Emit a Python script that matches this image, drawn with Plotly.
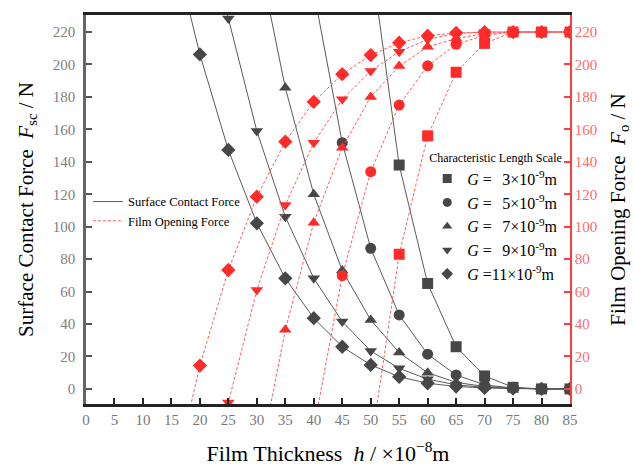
import plotly.graph_objects as go

# Film thickness h (x10^-8 m)
h_all = [15, 20, 25, 30, 35, 40, 45, 50, 55, 60, 65, 70, 75, 80, 85]

# Surface contact force F_sc (N) for each characteristic length scale G
sc_h = {
    3:  [50, 55, 60, 65, 70, 75, 80, 85],
    5:  [40, 45, 50, 55, 60, 65, 70, 75, 80, 85],
    7:  [30, 35, 40, 45, 50, 55, 60, 65, 70, 75, 80, 85],
    9:  [20, 25, 30, 35, 40, 45, 50, 55, 60, 65, 70, 75, 80, 85],
    11: [15, 20, 25, 30, 35, 40, 45, 50, 55, 60, 65, 70, 75, 80, 85],
}
sc_val = {
    3:  [266, 138, 65, 26, 8, 1, 0, 0],
    5:  [245, 151.8, 86.7, 45.6, 21.4, 8.6, 2.5, 0.5, 0, 0],
    7:  [272, 185.7, 120, 73, 42.5, 22.4, 10, 4, 1.5, 0.5, 0, 0],
    9:  [310, 228.4, 159, 106.2, 68.2, 41.5, 23.4, 12.7, 6, 2.5, 1, 0.3, 0, 0],
    11: [278, 206.2, 147.3, 102.1, 68.2, 43.6, 26, 14.8, 7.5, 3.5, 1.5, 0.6, 0.2, 0, 0],
}

# Film opening force F_o (N)
fo_h = sc_h
fo_val = {
    3:  [-36, 83, 156, 195.2, 213, 220, 220, 220],
    5:  [-25, 69.8, 133.9, 175, 199.2, 212.4, 218, 220, 220, 220],
    7:  [-53, 36.4, 102.5, 148.7, 180, 199, 210.9, 216, 219, 220, 220, 220],
    9:  [-78, -8.4, 61, 113.4, 151.8, 178.5, 196, 207.9, 215.5, 219, 220, 220, 220, 220],
    11: [-62, 14.4, 73.3, 118.5, 152.4, 177, 194, 205.8, 213.4, 217.7, 219.4, 220, 220, 220, 220],
}

G_list = [3, 5, 7, 9, 11]
symbols = {3: "square", 5: "circle", 7: "triangle-up", 9: "triangle-down", 11: "diamond"}
x_ticks = list(range(0, 90, 5))
y_ticks = list(range(0, 240, 20))

GRAY = "#474747"
GRAY_LINE = "#5a5a5a"
RED = "#ff2b2b"
RED_LINE = "#ff5a5a"
FONT = "Liberation Serif"
DASH = "3px,2px"

fig = go.Figure()

for g in G_list:
    fig.add_trace(go.Scatter(
        x=sc_h[g], y=sc_val[g], mode="lines+markers",
        line=dict(color=GRAY_LINE, width=1),
        marker=dict(symbol=symbols[g], size=11, color=GRAY),
        showlegend=False, yaxis="y", cliponaxis=True))

for g in G_list:
    fig.add_trace(go.Scatter(
        x=fo_h[g], y=fo_val[g], mode="lines+markers",
        line=dict(color=RED_LINE, width=1, dash=DASH),
        marker=dict(symbol=symbols[g], size=11, color=RED),
        showlegend=False, yaxis="y2", cliponaxis=True))

# legend 1: line styles
fig.add_trace(go.Scatter(x=[None], y=[None], mode="lines", name="Surface Contact Force",
                         line=dict(color=GRAY_LINE, width=1), legend="legend"))
fig.add_trace(go.Scatter(x=[None], y=[None], mode="lines", name="Film Opening Force",
                         line=dict(color=RED_LINE, width=1, dash=DASH), legend="legend"))

# legend 2: marker shapes
for g in G_list:
    label = (f"<i>G</i> =\u2009\u2009 {g}×10<sup>-9</sup>m" if g < 10
             else f"<i>G</i> ={g}×10<sup>-9</sup>m")
    fig.add_trace(go.Scatter(
        x=[None], y=[None], mode="markers", name=label,
        marker=dict(symbol=symbols[g], size=9, color=GRAY), legend="legend2"))

fig.update_layout(
    width=634, height=466,
    margin=dict(l=86, r=64, t=15, b=62),
    paper_bgcolor="white", plot_bgcolor="white",
    font=dict(family=FONT, color="black"),
    xaxis=dict(
        range=[0, 85], tickvals=x_ticks, ticktext=[str(v) for v in x_ticks],
        ticks="inside", ticklen=6, tickwidth=1.5, tickcolor="#222",
        showline=True, linecolor="#222", linewidth=2.5, mirror=False,
        showgrid=False, zeroline=False, automargin=False,
        tickfont=dict(family=FONT, size=15, color="#777"),
        title=dict(text="Film Thickness  <i>h</i> / ×10<sup>−8</sup>m",
                   font=dict(family=FONT, size=22, color="black"), standoff=20),
    ),
    xaxis2=dict(overlaying="x", side="top", range=[0, 85], showline=True,
                linecolor="#222", linewidth=2.5, showticklabels=False, ticks="",
                showgrid=False, zeroline=False, automargin=False),
    yaxis=dict(
        range=[-9.3, 230.5], tickvals=y_ticks, ticktext=[str(v) for v in y_ticks],
        ticks="inside", ticklen=6, tickwidth=1.5, tickcolor="#555",
        showline=True, linecolor="#666", linewidth=2.5,
        showgrid=False, zeroline=False, automargin=False,
        ticklabelstandoff=5,
        tickfont=dict(family=FONT, size=15, color="#808080"),
        title=dict(text="Surface Contact Force  <i>F</i><sub>sc</sub> / N",
                   font=dict(family=FONT, size=21, color="black"), standoff=14),
    ),
    yaxis2=dict(
        overlaying="y", side="right",
        range=[-9.3, 230.5], tickvals=y_ticks, ticktext=[str(v) for v in y_ticks],
        ticks="inside", ticklen=6, tickwidth=1.5, tickcolor="#ff3b3b",
        showline=True, linecolor="#ff3b3b", linewidth=1.5,
        showgrid=False, zeroline=False, automargin=False,
        tickfont=dict(family=FONT, size=15, color="#ff6b6b"),
        title=dict(text="Film Opening Force  <i>F</i><sub>o</sub> / N",
                   font=dict(family=FONT, size=21, color="black"), standoff=14),
    ),
    legend=dict(x=0.004, y=0.558, xanchor="left", yanchor="top",
                bgcolor="rgba(0,0,0,0)", font=dict(family=FONT, size=12.5, color="black"),
                tracegroupgap=0, itemwidth=30),
    legend2=dict(x=0.705, y=0.663, xanchor="left", yanchor="top",
                 bgcolor="rgba(0,0,0,0)", font=dict(family=FONT, size=16, color="black"),
                 title=dict(text="Characteristic Length Scale",
                            font=dict(family=FONT, size=12, color="black"), side="top"),
                 itemwidth=30),
)

# dummy trace to activate top axis line
fig.add_trace(go.Scatter(x=[None], y=[None], xaxis="x2", showlegend=False))

fig.write_html("out.html")
